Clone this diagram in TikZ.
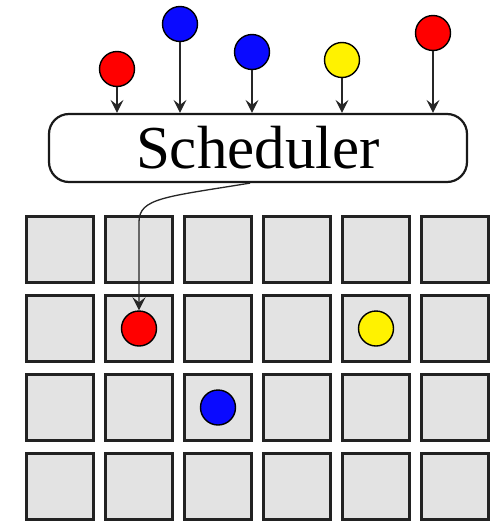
\documentclass[tikz,border=0pt]{standalone}
\usepackage{fontspec}
\setmainfont{Liberation Serif}
\usetikzlibrary{arrows.meta}
\definecolor{cellfill}{HTML}{E3E3E3}
\definecolor{cellline}{HTML}{222222}
\definecolor{ballred}{HTML}{FF0000}
\definecolor{ballblue}{HTML}{0A0AFF}
\definecolor{ballyellow}{HTML}{FFF200}
\tikzset{
  cell/.style={draw=cellline, fill=cellfill, line width=3.4pt, inner sep=0pt,
    minimum width=66.6pt, minimum height=65.6pt},
  ball/.style={circle, draw=black, line width=1.4pt, inner sep=0pt, minimum size=35pt},
  schedbox/.style={draw=black!90, line width=2.2pt, rounded corners=20pt, inner sep=0pt,
    minimum width=418pt, minimum height=68pt, font=\fontsize{61}{63}\selectfont},
  arr/.style={draw=black!85, line width=1.3pt,
    -{Stealth[length=13pt, width=13pt, inset=5pt]}},
}
\begin{document}
\begin{tikzpicture}[x=1pt, y=-1pt]
\useasboundingbox (0,0) rectangle (493,525);
% grid
\foreach \i in {0,...,5} {
  \foreach \j in {0,...,3} {
    \node[cell] (c-\i-\j) at (60+79*\i, 249.5+79*\j) {};
  }
}
% scheduler
\node[schedbox] (sched) at (258,148) {\raisebox{-2pt}{Scheduler}};
% incoming jobs
\node[ball, fill=ballred]    (j1) at (117,69) {};
\node[ball, fill=ballblue]   (j2) at (180,24) {};
\node[ball, fill=ballblue]   (j3) at (252,52) {};
\node[ball, fill=ballyellow] (j4) at (342,60) {};
\node[ball, fill=ballred]    (j5) at (433,33) {};
\foreach \k in {1,...,5} {
  \draw[arr] (j\k.south) -- (j\k.south |- sched.north);
}
% placed jobs
\node[ball, fill=ballred]    (p1) at (c-1-1) {};
\node[ball, fill=ballblue]   (p2) at (c-2-2) {};
\node[ball, fill=ballyellow] (p3) at (c-4-1) {};
% dispatch connector
\coordinate (d0) at ([xshift=-8pt]sched.south);
\coordinate (d1) at (139,222);
\draw[arr] (d0) .. controls (165,197) and (139,198) .. (d1) -- (p1.north);
\end{tikzpicture}
\end{document}
